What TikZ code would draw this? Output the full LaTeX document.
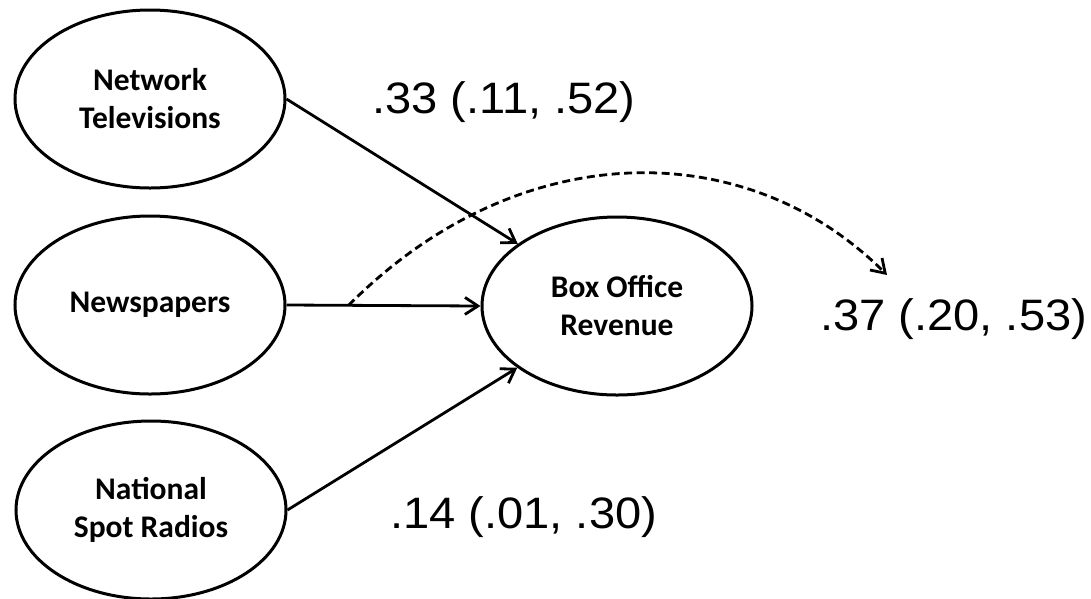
\documentclass[tikz,border=0pt]{standalone}
\usepackage{fontspec}
\setmainfont{Liberation Sans}
\newfontfamily\calib{Carlito}
\usetikzlibrary{arrows.meta,calc,shapes.geometric}

\tikzset{
  var/.style={draw, ellipse, line width=3pt, minimum width=270pt, minimum height=178pt,
    inner sep=0pt, align=center, font=\calib\bfseries\fontsize{31.5}{38}\selectfont},
  effect/.style={line width=2.8pt, -{Straight Barb[length=13pt,width=17pt,line width=2.8pt]}},
  indirect/.style={effect, dash pattern=on 8pt off 4.5pt},
  coef/.style={anchor=base west, inner sep=0pt, font=\fontsize{44}{50}\selectfont}
}
\newcommand{\wide}[1]{\scalebox{1.07}[1]{#1}}

\begin{document}
\begin{tikzpicture}[x=1pt, y=-1pt]
  \useasboundingbox (0,0) rectangle (1091,598);

  % predictors and outcome
  \node[var] (tv)    at (150,99)  {Network\\Televisions};
  \node[var] (news)  at (150,305) {Newspapers};
  \node[var] (radio) at (151,510) {National\\Spot Radios};
  \node[var] (box)   at (617,306) {Box Office\\Revenue};

  % direct paths
  \draw[effect] (tv.east) -- (box);
  \draw[effect] (news.east) -- (box.west);
  \draw[effect] (radio.east) -- (box);

  % indirect effect leaving the newspapers path
  \coordinate (split) at ($(news.east)!0.32!(box.west)$);
  \coordinate (ind) at (887,275);
  \draw[indirect] (split) .. controls (518,135) and (746,134) .. (ind);

  % path coefficients with intervals
  \node[coef] (c1) at (372,113) {\wide{.33 (.11, .52)}};
  \node[coef] (c2) at (820,330) {\wide{.37 (.20, .53)}};
  \node[coef] (c3) at (390,528) {\wide{.14 (.01, .30)}};
\end{tikzpicture}
\end{document}
